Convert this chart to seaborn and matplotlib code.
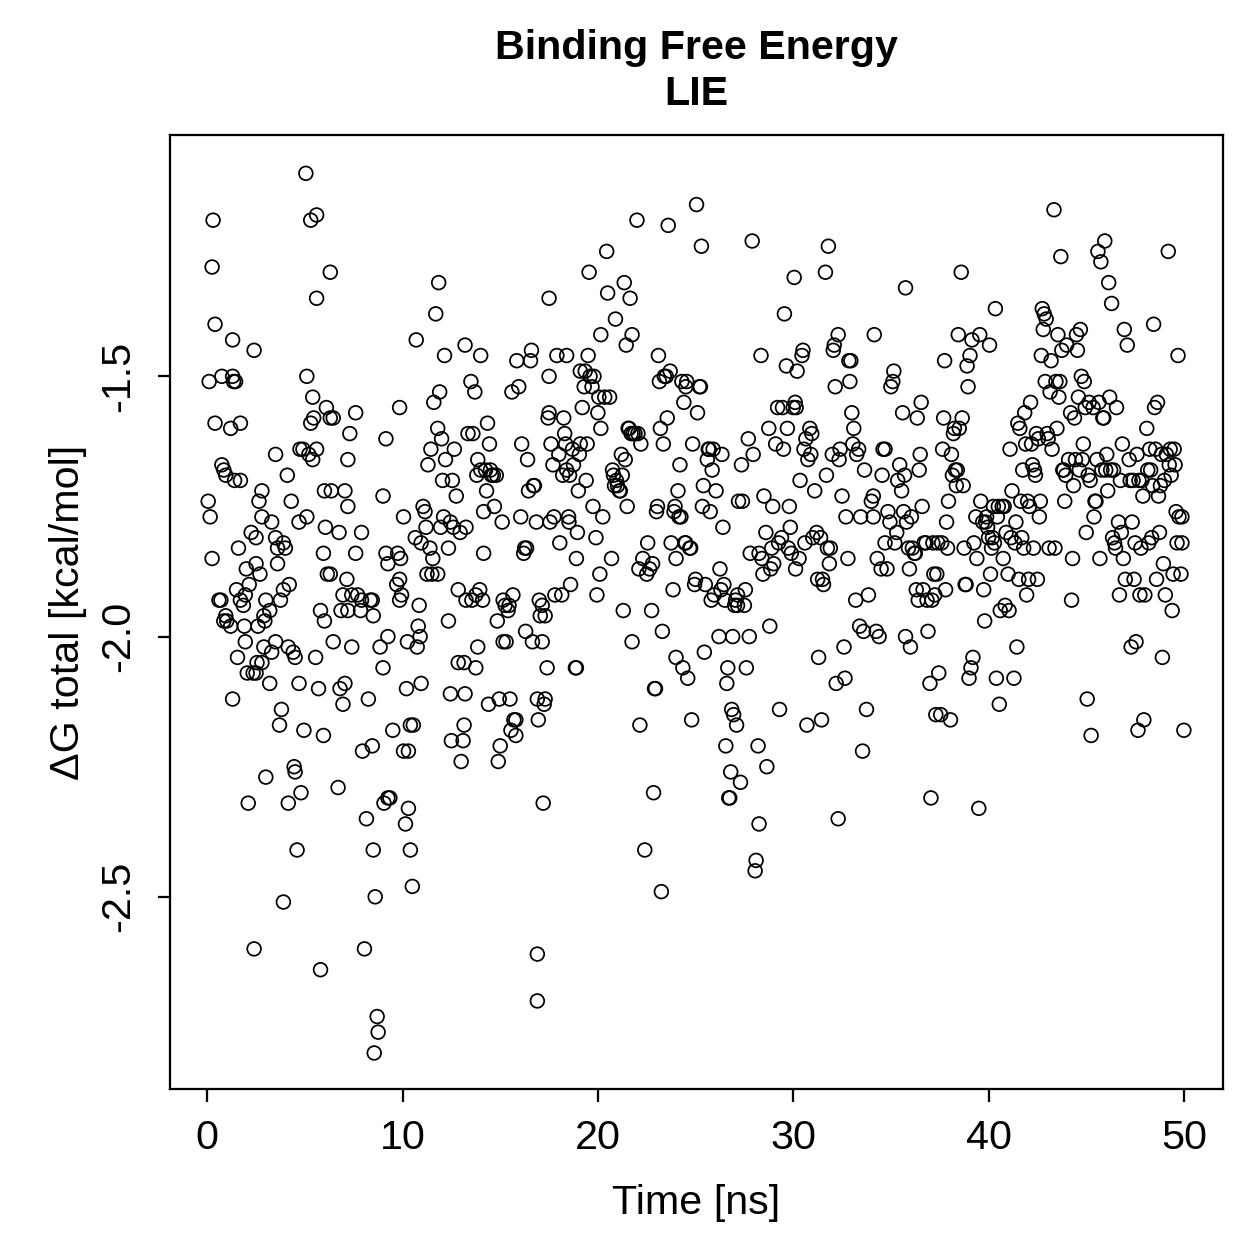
import pandas as pd
import numpy as np
import matplotlib
matplotlib.use("Agg")
import matplotlib.pyplot as plt
import seaborn as sns

# (time [ns], dG total [kcal/mol]), grouped by time span
pts_00_05 = [(0.3,-1.20),(0.25,-1.29),(0.4,-1.40),(0.1,-1.51),(0.75,-1.50),(1.3,-1.50),(1.35,-1.51),(1.45,-1.51),
    (1.3,-1.43),(2.4,-1.45),(0.4,-1.59),(1.2,-1.60),(1.7,-1.59),(0.05,-1.74),(0.15,-1.77),(0.25,-1.85),
    (0.75,-1.67),(0.85,-1.68),(0.95,-1.69),(1.4,-1.70),(1.7,-1.70),(0.6,-1.93),(0.7,-1.93),(0.95,-1.96),
    (1.0,-1.97),(1.2,-1.98),(0.85,-1.97),(1.5,-1.91),(1.7,-1.93),(1.85,-1.94),(1.6,-1.83),(2.25,-1.80),
    (2.5,-1.81),(2.65,-1.74),(2.8,-1.72),(2.8,-1.77),(2.0,-1.87),(2.15,-1.90),(2.5,-1.86),(2.7,-1.88),
    (1.95,-1.92),(1.9,-1.98),(1.95,-2.01),(1.55,-2.04),(2.05,-2.07),(2.35,-2.07),(2.5,-2.07),(2.55,-2.05),
    (2.8,-2.05),(2.6,-1.98),(2.9,-1.96),(2.95,-1.97),(3.0,-1.93),(3.2,-1.95),(3.2,-2.09),(2.9,-2.02),
    (1.3,-2.12),(2.1,-2.32),(3.0,-2.27),(2.4,-2.60),(3.5,-1.65),(3.5,-1.81),(3.6,-1.83),(3.3,-2.03),
    (3.5,-2.01),(3.7,-2.17),(3.8,-2.14),(3.9,-1.91),(3.75,-1.93),(3.9,-1.82),(4.0,-1.83),(4.1,-1.69),
    (4.15,-2.02),(4.2,-1.90),(4.4,-2.03),(4.5,-2.04),(4.3,-1.74),(4.15,-2.32),(3.9,-2.51),(4.45,-2.25),
    (4.5,-2.26),(4.6,-2.41),(4.7,-2.09),(4.8,-2.30),(4.75,-1.64),(4.9,-1.64),(4.95,-2.18),(4.7,-1.78),
    (3.3,-1.78),(3.6,-1.86)]

pts_05_10 = [(5.1,-1.77),(5.05,-1.11),(5.1,-1.50),(5.3,-1.20),(5.6,-1.19),(5.3,-1.59),(5.45,-1.58),(5.4,-1.66),
    (5.2,-1.65),(5.6,-1.35),(5.6,-1.64),(5.4,-1.54),(5.55,-2.04),(5.7,-2.10),(5.8,-1.95),(5.95,-1.84),
    (5.95,-2.19),(5.8,-2.64),(6.3,-1.30),(6.1,-1.56),(6.3,-1.58),(6.0,-1.72),(6.05,-1.79),(6.15,-1.88),
    (6.3,-1.88),(6.0,-1.97),(6.35,-1.72),(6.45,-1.58),(6.45,-2.01),(6.7,-2.29),(6.75,-1.80),(6.85,-1.95),
    (6.8,-2.10),(6.95,-2.13),(7.05,-2.09),(7.05,-1.72),(6.95,-1.92),(7.15,-1.89),(7.2,-1.66),(7.3,-1.61),
    (7.2,-1.75),(7.4,-1.92),(7.2,-1.95),(7.4,-2.02),(7.6,-1.57),(7.7,-1.92),(7.6,-1.84),(7.85,-1.95),
    (7.9,-1.80),(7.9,-1.93),(7.95,-2.22),(8.05,-2.60),(8.15,-2.35),(8.25,-2.12),(8.35,-1.93),(8.45,-1.93),
    (8.5,-1.96),(8.45,-2.21),(8.5,-2.41),(8.6,-2.50),(8.7,-2.73),(8.75,-2.76),(8.55,-2.80),(8.85,-2.02),
    (9.0,-2.06),(9.05,-2.32),(9.25,-2.31),(9.35,-2.31),(9.0,-1.73),(9.15,-1.62),(9.15,-1.84),(9.25,-1.86),
    (9.25,-2.00),(9.5,-2.18),(9.7,-1.90),(9.85,-1.89),(9.75,-1.84),(9.9,-1.85),(9.85,-1.56),(9.85,-1.93),
    (9.95,-1.92)]

pts_10_15 = [(10.05,-1.77),(10.05,-2.22),(10.3,-2.22),(10.15,-2.36),(10.3,-2.33),(10.4,-2.41),(10.5,-2.48),
    (10.4,-2.17),(10.55,-2.17),(10.2,-2.10),(10.25,-2.01),(10.7,-1.43),(10.65,-1.81),(10.75,-2.02),
    (10.8,-1.98),(10.85,-1.94),(10.9,-2.00),(10.95,-2.09),(10.95,-1.82),(11.05,-1.75),(11.15,-1.76),
    (11.2,-1.79),(11.25,-1.88),(11.3,-1.67),(11.4,-1.83),(11.5,-1.88),(11.55,-1.85),(11.45,-1.64),
    (11.6,-1.55),(11.7,-1.38),(11.8,-1.60),(11.9,-1.53),(11.85,-1.32),(11.8,-1.88),(11.95,-1.79),
    (12.0,-1.62),(12.05,-1.70),(12.1,-1.77),(12.15,-1.46),(12.2,-1.66),(12.35,-1.97),(12.35,-1.83),
    (12.45,-2.11),(12.5,-2.20),(12.45,-1.78),(12.55,-1.70),(12.6,-1.79),(12.65,-1.64),(12.75,-1.73),
    (12.85,-1.91),(12.85,-2.05),(12.95,-1.80),(13.0,-2.24),(13.1,-2.20),(13.15,-2.17),(13.2,-2.11),
    (13.15,-2.05),(13.25,-1.93),(13.2,-1.44),(13.25,-1.79),(13.35,-1.61),(13.5,-1.51),(13.6,-1.61),
    (13.55,-1.93),(13.75,-1.92),(13.8,-1.69),(13.85,-1.66),(13.7,-1.53),(13.75,-2.06),(13.85,-2.02),
    (13.95,-1.91),(14.0,-1.46),(14.0,-1.68),(14.1,-1.93),(14.15,-1.76),(14.15,-1.84),(14.25,-1.68),
    (14.3,-1.72),(14.35,-1.59),(14.4,-2.13),(14.45,-1.63),(14.5,-1.68),(14.55,-1.69),(14.65,-1.69),
    (14.7,-1.75),(14.8,-1.69),(14.85,-1.97),(14.9,-2.24),(14.95,-2.12)]

pts_15_20 = [(15.0,-2.21),(15.1,-1.78),(15.15,-1.93),(15.15,-2.01),(15.25,-1.94),(15.3,-2.01),(15.4,-1.95),
    (15.45,-1.94),(15.5,-2.12),(15.55,-2.18),(15.6,-1.53),(15.65,-1.92),(15.7,-2.16),(15.8,-2.16),
    (15.8,-2.19),(15.85,-1.47),(15.95,-1.52),(16.05,-1.77),(16.1,-1.63),(16.2,-1.84),(16.25,-1.83),
    (16.35,-1.83),(16.4,-1.66),(16.3,-1.99),(16.45,-1.72),(16.55,-1.47),(16.6,-1.45),(16.65,-2.01),
    (16.7,-1.71),(16.75,-1.71),(16.85,-1.78),(16.9,-2.12),(16.95,-2.16),(16.9,-2.61),(16.9,-2.70),
    (17.0,-1.93),(17.05,-1.96),(17.15,-1.94),(17.15,-2.01),(17.2,-2.32),(17.25,-2.13),(17.3,-2.12),
    (17.3,-1.96),(17.4,-2.06),(17.45,-1.58),(17.5,-1.35),(17.5,-1.50),(17.5,-1.57),(17.6,-1.63),
    (17.55,-1.78),(17.7,-1.67),(17.75,-1.77),(17.8,-1.92),(17.9,-1.46),(18.0,-1.65),(18.05,-1.82),
    (18.15,-1.92),(18.2,-1.69),(18.25,-1.58),(18.3,-1.61),(18.35,-1.63),(18.4,-1.46),(18.4,-1.68),
    (18.5,-1.77),(18.52,-1.78),(18.55,-1.69),(18.6,-1.90),(18.7,-1.64),(18.75,-1.67),(18.85,-2.06),
    (18.9,-2.06),(18.9,-1.85),(18.95,-1.80),(19.0,-1.72),(19.05,-1.65),(19.1,-1.63),(19.1,-1.49),
    (19.2,-1.56),(19.3,-1.52),(19.35,-1.49),(19.4,-1.70),(19.45,-1.63),(19.5,-1.46),(19.55,-1.30),
    (19.6,-1.50),(19.7,-1.52),(19.75,-1.75),(19.8,-1.50),(19.9,-1.81),(20.0,-1.57),(19.95,-1.92)]

pts_20_25 = [(20.05,-1.54),(20.1,-1.88),(20.15,-1.60),(20.15,-1.42),(20.25,-1.77),(20.35,-1.54),(20.45,-1.26),
    (20.5,-1.34),(20.6,-1.54),(20.7,-1.85),(20.75,-1.68),(20.8,-1.69),(20.85,-1.71),(20.9,-1.39),
    (20.95,-1.70),(21.0,-1.71),(21.1,-1.72),(21.15,-1.72),(21.2,-1.65),(21.25,-1.69),(21.3,-1.95),
    (21.35,-1.32),(21.4,-1.66),(21.45,-1.44),(21.5,-1.75),(21.55,-1.60),(21.6,-1.60),(21.65,-1.35),
    (21.7,-1.61),(21.75,-2.01),(21.75,-1.42),(21.8,-1.61),(21.9,-1.61),(22.0,-1.20),(22.05,-1.61),
    (22.1,-1.87),(22.15,-2.17),(22.2,-1.63),(22.3,-1.85),(22.4,-2.41),(22.5,-1.88),(22.55,-1.82),
    (22.65,-1.87),(22.75,-1.95),(22.8,-1.86),(22.85,-2.30),(22.9,-2.10),(22.95,-2.10),(23.0,-1.76),
    (23.05,-1.75),(23.1,-1.46),(23.15,-1.51),(23.2,-1.60),(23.25,-2.49),(23.3,-1.99),(23.35,-1.63),
    (23.4,-1.50),(23.5,-1.50),(23.55,-1.58),(23.6,-1.21),(23.7,-1.49),(23.75,-1.82),(23.85,-1.91),
    (23.9,-1.76),(23.95,-1.75),(24.0,-1.85),(24.0,-2.04),(24.1,-1.72),(24.15,-1.77),(24.2,-1.67),
    (24.25,-1.77),(24.3,-1.51),(24.35,-2.06),(24.4,-1.55),(24.45,-1.82),(24.5,-1.52),(24.5,-1.82),
    (24.55,-1.51),(24.6,-2.08),(24.7,-1.83),(24.75,-1.83),(24.8,-2.16),(24.85,-1.63),(24.95,-1.90),
    (25.0,-1.89)]

pts_25_30 = [(25.05,-1.17),(25.1,-1.57),(25.2,-1.52),(25.25,-1.52),(25.3,-1.25),(25.35,-1.75),(25.4,-1.71),
    (25.45,-2.03),(25.5,-1.90),(25.6,-1.66),(25.65,-1.64),(25.7,-1.64),(25.75,-1.76),(25.8,-1.93),
    (25.85,-1.68),(25.9,-1.64),(25.95,-1.92),(26.05,-1.72),(26.2,-2.00),(26.25,-1.87),(26.3,-1.91),
    (26.35,-1.65),(26.4,-1.79),(26.45,-1.90),(26.5,-1.93),(26.55,-2.21),(26.6,-2.09),(26.65,-2.06),
    (26.7,-2.31),(26.75,-2.31),(26.8,-2.26),(26.85,-2.14),(26.9,-2.00),(26.95,-2.15),(27.0,-1.94),
    (27.05,-1.93),(27.1,-2.17),(27.15,-1.94),(27.15,-1.92),(27.2,-1.74),(27.3,-2.28),(27.35,-1.67),
    (27.4,-1.74),(27.5,-1.94),(27.55,-1.91),(27.6,-2.06),(27.7,-1.62),(27.75,-2.00),(27.8,-1.84),
    (27.9,-1.24),(27.95,-1.65),(28.05,-2.45),(28.1,-2.43),(28.2,-2.21),(28.25,-2.36),(28.25,-1.84),
    (28.35,-1.46),(28.4,-1.85),(28.45,-1.88),(28.5,-1.73),(28.6,-1.80),(28.65,-2.25),(28.75,-1.60),
    (28.8,-1.98),(28.85,-1.87),(28.9,-1.83),(28.95,-1.75),(29.0,-1.86),(29.1,-1.63),(29.2,-1.56),
    (29.25,-1.82),(29.3,-2.14),(29.4,-1.81),(29.45,-1.56),(29.5,-1.64),(29.55,-1.38),(29.65,-1.48),
    (29.7,-1.60),(29.75,-1.83),(29.8,-1.75),(29.85,-1.79),(29.9,-1.84),(30.0,-1.56)]

pts_30_35 = [(30.05,-1.31),(30.1,-1.55),(30.12,-1.87),(30.15,-1.56),(30.2,-1.49),(30.3,-1.85),(30.35,-1.70),
    (30.45,-1.46),(30.5,-1.45),(30.55,-1.64),(30.6,-1.82),(30.65,-1.62),(30.7,-2.17),(30.75,-1.66),
    (30.85,-1.60),(30.9,-1.65),(30.95,-1.61),(31.0,-1.81),(31.1,-1.72),(31.2,-1.80),(31.25,-1.89),
    (31.3,-2.04),(31.4,-1.81),(31.45,-2.16),(31.5,-1.89),(31.55,-1.90),(31.65,-1.30),(31.7,-1.69),
    (31.75,-1.83),(31.8,-1.25),(31.85,-1.86),(31.9,-1.83),(32.0,-1.65),(32.05,-1.45),(32.1,-1.44),
    (32.15,-1.52),(32.2,-2.09),(32.3,-2.35),(32.3,-1.42),(32.35,-1.66),(32.4,-1.64),(32.5,-1.73),
    (32.6,-2.02),(32.65,-2.08),(32.7,-1.77),(32.8,-1.85),(32.85,-1.47),(32.9,-1.51),(32.95,-1.47),
    (33.0,-1.57),(33.1,-1.60),(33.05,-1.63),(33.25,-1.65),(33.35,-1.64),(33.45,-1.77),(33.2,-1.93),
    (33.4,-1.98),(33.55,-2.22),(33.6,-1.99),(33.65,-1.68),(33.75,-2.14),(33.85,-1.92),(34.0,-1.74),
    (34.1,-1.77),(34.15,-1.42),(34.1,-1.73),(34.25,-1.99),(34.4,-2.00),(34.3,-1.85),(34.5,-1.87),
    (34.55,-1.69),(34.6,-1.64),(34.7,-1.64),(34.7,-1.82),(34.8,-1.87),(34.85,-1.76),(34.95,-1.78)]

pts_35_40 = [(35.0,-1.52),(35.1,-1.51),(35.15,-1.49),(35.2,-1.82),(35.3,-1.80),(35.35,-1.70),(35.45,-1.67),
    (35.55,-1.72),(35.6,-1.57),(35.65,-1.76),(35.7,-1.69),(35.75,-1.33),(35.75,-2.00),(35.8,-1.78),
    (35.9,-1.83),(35.95,-1.87),(36.0,-2.02),(36.05,-1.77),(36.1,-1.83),(36.2,-1.84),(36.25,-1.84),
    (36.3,-1.91),(36.35,-1.58),(36.4,-1.93),(36.45,-1.68),(36.5,-1.65),(36.55,-1.55),(36.6,-1.75),
    (36.65,-1.91),(36.7,-1.82),(36.8,-1.82),(36.85,-1.93),(36.9,-1.99),(37.0,-2.09),(37.05,-2.31),
    (37.1,-1.93),(37.15,-1.82),(37.2,-1.88),(37.25,-1.92),(37.3,-2.15),(37.35,-1.88),(37.4,-1.82),
    (37.45,-2.07),(37.55,-2.15),(37.6,-1.82),(37.65,-1.64),(37.7,-1.58),(37.75,-1.47),(37.8,-1.91),
    (37.85,-1.78),(37.9,-1.83),(37.95,-1.74),(38.05,-2.16),(38.1,-1.65),(38.15,-1.69),(38.2,-1.61),
    (38.25,-1.60),(38.3,-1.68),(38.35,-1.71),(38.4,-1.68),(38.45,-1.42),(38.5,-1.60),(38.6,-1.30),
    (38.65,-1.58),(38.7,-1.71),(38.75,-1.83),(38.8,-1.90),(38.85,-1.90),(38.9,-1.48),(38.95,-1.52),
    (39.0,-2.08),(39.05,-1.46),(39.1,-2.06),(39.15,-1.43),(39.2,-2.04),(39.25,-1.82),(39.35,-1.77),
    (39.4,-1.85),(39.5,-2.33),(39.55,-1.42),(39.6,-1.74),(39.7,-1.78),(39.75,-1.91),(39.8,-1.97),
    (39.85,-1.78),(39.9,-1.77),(39.95,-1.79)]

pts_40_45 = [(40.0,-1.81),(40.05,-1.44),(40.1,-1.88),(40.15,-1.83),(40.2,-1.81),(40.25,-1.75),(40.3,-1.82),
    (40.35,-1.37),(40.4,-2.08),(40.45,-1.77),(40.5,-1.75),(40.55,-2.13),(40.6,-1.95),(40.7,-1.75),
    (40.75,-1.85),(40.8,-1.75),(40.85,-1.94),(40.9,-1.80),(41.0,-1.88),(41.05,-1.95),(41.1,-1.64),
    (41.15,-1.81),(41.2,-1.72),(41.3,-2.08),(41.35,-1.82),(41.4,-1.78),(41.45,-2.02),(41.5,-1.59),
    (41.55,-1.89),(41.6,-1.60),(41.65,-1.74),(41.7,-1.81),(41.75,-1.68),(41.8,-1.83),(41.85,-1.57),
    (41.9,-1.63),(41.95,-1.92),(42.0,-1.74),(42.05,-1.89),(42.1,-1.75),(42.15,-1.55),(42.2,-1.63),
    (42.25,-1.67),(42.3,-1.83),(42.35,-1.68),(42.4,-1.69),(42.45,-1.61),(42.5,-1.89),(42.55,-1.62),
    (42.6,-1.77),(42.65,-1.74),(42.7,-1.46),(42.75,-1.37),(42.8,-1.41),(42.85,-1.38),(42.9,-1.51),
    (42.95,-1.39),(43.0,-1.61),(43.05,-1.62),(43.1,-1.83),(43.15,-1.53),(43.2,-1.47),(43.25,-1.64),
    (43.35,-1.18),(43.4,-1.83),(43.45,-1.51),(43.5,-1.60),(43.55,-1.42),(43.6,-1.54),(43.65,-1.51),
    (43.7,-1.27),(43.75,-1.45),(43.8,-1.68),(43.85,-1.68),(43.9,-1.74),(43.95,-1.69),(44.0,-1.44),
    (44.1,-1.66),(44.2,-1.57),(44.25,-1.93),(44.3,-1.85),(44.35,-1.71),(44.4,-1.58),(44.45,-1.66),
    (44.5,-1.42),(44.55,-1.45),(44.6,-1.54),(44.65,-1.68),(44.7,-1.41),(44.75,-1.50),(44.8,-1.66),
    (44.85,-1.63),(44.9,-1.51),(44.95,-1.56)]

pts_45_50 = [(45.0,-1.80),(45.05,-2.12),(45.1,-1.69),(45.15,-1.55),(45.2,-1.70),(45.25,-2.19),(45.35,-1.56),
    (45.4,-1.77),(45.45,-1.74),(45.5,-1.74),(45.55,-1.66),(45.6,-1.26),(45.65,-1.55),(45.7,-1.85),
    (45.75,-1.28),(45.8,-1.68),(45.85,-1.58),(45.9,-1.58),(45.95,-1.24),(46.0,-1.68),(46.05,-1.65),
    (46.1,-1.72),(46.15,-1.32),(46.2,-1.54),(46.25,-1.68),(46.3,-1.36),(46.35,-1.81),(46.4,-1.68),
    (46.45,-1.82),(46.5,-1.83),(46.55,-1.56),(46.65,-1.78),(46.7,-1.92),(46.75,-1.70),(46.8,-1.80),
    (46.85,-1.63),(46.9,-1.85),(46.95,-1.41),(47.0,-1.89),(47.1,-1.44),(47.2,-1.66),(47.25,-1.70),
    (47.3,-2.02),(47.35,-1.78),(47.4,-1.70),(47.45,-1.89),(47.5,-1.82),(47.55,-2.01),(47.6,-1.65),
    (47.65,-2.18),(47.7,-1.70),(47.75,-1.92),(47.8,-1.83),(47.85,-1.70),(47.9,-1.73),(47.95,-2.16),
    (48.0,-1.92),(48.1,-1.60),(48.15,-1.68),(48.2,-1.82),(48.25,-1.64),(48.3,-1.68),(48.35,-1.81),
    (48.4,-1.71),(48.45,-1.40),(48.5,-1.56),(48.55,-1.64),(48.6,-1.89),(48.65,-1.55),(48.7,-1.73),
    (48.75,-1.80),(48.8,-1.71),(48.85,-1.65),(48.9,-2.04),(48.95,-1.86),(49.0,-1.70),(49.05,-1.92),
    (49.1,-1.65),(49.2,-1.26),(49.25,-1.67),(49.3,-1.64),(49.35,-1.69),(49.4,-1.95),(49.45,-1.88),
    (49.5,-1.64),(49.55,-1.67),(49.6,-1.76),(49.65,-1.82),(49.7,-1.46),(49.75,-1.77),(49.85,-1.88),
    (49.9,-1.82),(50.0,-2.18),(49.9,-1.77)]

x_ticks = [0, 10, 20, 30, 40, 50]
y_ticks = [-1.5, -2.0, -2.5]
y_tick_labels = ["-1.5", "-2.0", "-2.5"]

all_pts = (pts_00_05 + pts_05_10 + pts_10_15 + pts_15_20 + pts_20_25
           + pts_25_30 + pts_30_35 + pts_35_40 + pts_40_45 + pts_45_50)
df = pd.DataFrame(all_pts, columns=["time", "dg"])

sns.set_style("ticks")
plt.rcParams["font.family"] = ["Liberation Sans", "DejaVu Sans"]
plt.rcParams["axes.linewidth"] = 0.9
plt.rcParams["text.color"] = "black"
plt.rcParams["axes.labelcolor"] = "black"

fig = plt.figure(figsize=(7, 7), dpi=180)
ax = fig.add_axes([0.135, 0.1358, 0.8356, 0.757])

sns.scatterplot(data=df, x="time", y="dg", ax=ax, marker="o", s=30,
                facecolors="none", edgecolor="black", linewidth=0.7)

ax.set_xlim(-1.9, 52.0)
ax.set_ylim(-2.869, -1.0365)
ax.set_xticks(x_ticks)
ax.set_yticks(y_ticks)
ax.set_yticklabels(y_tick_labels, rotation=90, va="center")
ax.tick_params(axis="both", direction="out", length=5, width=0.9,
               labelsize=16.5, colors="black")
ax.tick_params(axis="x", pad=7)
ax.tick_params(axis="y", pad=8)
for sp in ax.spines.values():
    sp.set_visible(True)
    sp.set_color("black")

ax.set_xlabel("Time [ns]", fontsize=16.5, labelpad=11, color="black")
ax.set_ylabel("\u0394G total [kcal/mol]", fontsize=16.5, labelpad=5, color="black")
ax.set_title("Binding Free Energy\nLIE", fontsize=16.5, fontweight="bold",
             linespacing=1.27, pad=12, color="black")

fig.savefig("out.png", dpi=180)
